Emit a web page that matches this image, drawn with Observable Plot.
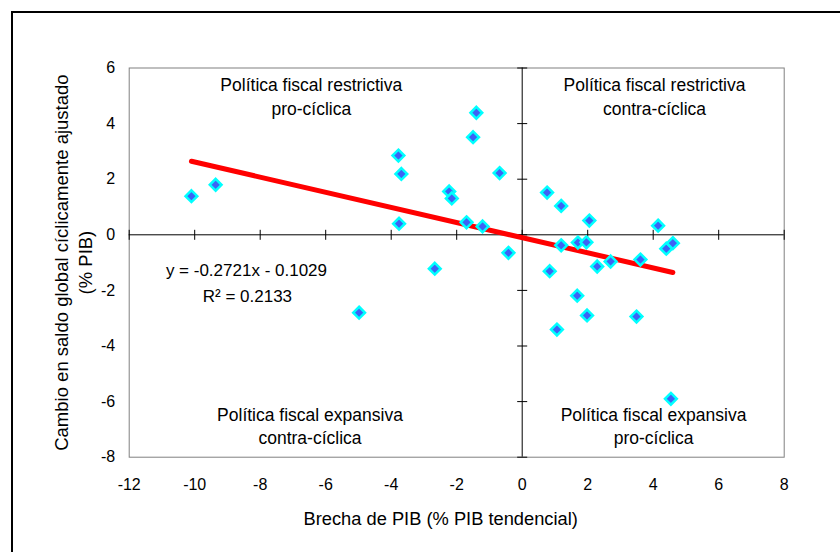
<!DOCTYPE html>
<html>
<head>
<meta charset="utf-8">
<script src="https://cdn.jsdelivr.net/npm/d3@7"></script>
<script src="https://cdn.jsdelivr.net/npm/@observablehq/plot@0.6"></script>
<style>
  html, body { margin: 0; padding: 0; background: #fff; overflow: hidden; }
  #wrap { position: relative; width: 840px; height: 552px; overflow: hidden; }
  #border { position: absolute; left: 11px; top: 11px; width: 900px; height: 600px;
            border: 2px solid #000; box-sizing: border-box; }
  #chart { position: absolute; left: 0; top: 0; }
</style>
</head>
<body>
<div id="wrap"><div id="border"></div><div id="chart"></div></div>
<script>
// Output gap (% of trend GDP) per observation
const gap = [-10.10, -9.36, -4.98, -3.78, -3.69, -3.76, -2.67, -2.23, -2.15, -1.70,
             -1.50, -1.40, -1.21, -0.69, -0.42, 0.76, 0.84, 1.06, 1.19, 1.19,
             1.68, 1.70, 1.96, 1.98, 2.05, 2.29, 2.70, 3.49, 3.61, 4.15,
             4.40, 4.54, 4.60];
// Change in the cyclically adjusted overall balance (% of GDP)
const balance = [1.39, 1.80, -2.80, 2.85, 2.19, 0.40, -1.22, 1.56, 1.31, 0.45,
                 3.51, 4.39, 0.30, 2.22, -0.65, 1.52, -1.31, -3.41, 1.04, -0.38,
                 -2.19, -0.28, -0.27, -2.90, 0.51, -1.14, -0.96, -2.94, -0.89, 0.33,
                 -0.50, -5.90, -0.30];
// Axis ticks
const xTicks = [-12, -10, -8, -6, -4, -2, 0, 2, 4, 6, 8];
const yTicks = [-8, -6, -4, -2, 0, 2, 4, 6];
// Linear trend fitted to the observations
const slope = -0.2721;
const intercept = -0.1029;
const rSquared = 0.2133;

const points = gap.map((x, i) => ({x, y: balance[i]}));
const fit = d3.extent(gap).map(x => ({x, y: slope * x + intercept}));

const fmt = d => String(d);
const equation = `y = ${slope.toFixed(4)}x - ${Math.abs(intercept).toFixed(4)}`;
const r2Label = `R² = ${rSquared.toFixed(4)}`;

// Small cross-shaped tick marks drawn on the zero axes
const vTick = {draw(ctx) { ctx.moveTo(0, -5); ctx.lineTo(0, 5); }};
const hTick = {draw(ctx) { ctx.moveTo(-5, 0); ctx.lineTo(5, 0); }};

const font = "'Liberation Sans', Arial, sans-serif";
const quadFont = 17.5;

const chart = Plot.plot({
  width: 840,
  height: 552,
  marginLeft: 128.7,
  marginRight: 56.3,
  marginTop: 67.5,
  marginBottom: 95.3,
  style: {fontFamily: font, color: "#000", background: "transparent"},
  x: {domain: [-12, 8]},
  y: {domain: [-8, 6]},
  marks: [
    Plot.frame({stroke: "#808080", strokeWidth: 1}),
    Plot.ruleY([0], {stroke: "#000", strokeWidth: 1}),
    Plot.ruleX([0], {stroke: "#000", strokeWidth: 1}),
    Plot.dot(xTicks, {x: d => d, y: () => 0, symbol: vTick, fill: "none", stroke: "#000", strokeWidth: 1}),
    Plot.dot(yTicks, {x: () => 0, y: d => d, symbol: hTick, fill: "none", stroke: "#000", strokeWidth: 1}),
    Plot.axisX({ticks: xTicks, tickFormat: fmt, tickSize: 0, tickPadding: 21, fontSize: 16, label: null}),
    Plot.axisY({ticks: yTicks, tickFormat: fmt, tickSize: 0, tickPadding: 14, fontSize: 16, label: null}),
    Plot.text(["Política fiscal restrictiva\npro-cíclica"], {x: () => -6.44, y: () => 5.01, text: d => d, fontSize: quadFont, lineHeight: 1.34, fill: "#000"}),
    Plot.text(["Política fiscal restrictiva\ncontra-cíclica"], {x: () => 4.04, y: () => 5.01, text: d => d, fontSize: quadFont, lineHeight: 1.34, fill: "#000"}),
    Plot.text(["Política fiscal expansiva\ncontra-cíclica"], {x: () => -6.48, y: () => -6.85, text: d => d, fontSize: quadFont, lineHeight: 1.34, fill: "#000"}),
    Plot.text(["Política fiscal expansiva\npro-cíclica"], {x: () => 4.01, y: () => -6.85, text: d => d, fontSize: quadFont, lineHeight: 1.34, fill: "#000"}),
    Plot.text([equation], {x: () => -8.42, y: () => -1.27, text: d => d, fontSize: 17, fill: "#000"}),
    Plot.text([r2Label], {x: () => -8.39, y: () => -2.23, text: d => d, fontSize: 17, fill: "#000"}),
    Plot.line(fit, {x: "x", y: "y", stroke: "#ff0000", strokeWidth: 5, strokeLinecap: "round"}),
    Plot.dot(points, {x: "x", y: "y", symbol: "diamond2", r: 5.3, fill: "#3d63f5", stroke: "#00ffff", strokeWidth: 2.5}),
    Plot.text(["Brecha de PIB (% PIB tendencial)"], {frameAnchor: "bottom", textAnchor: "middle", lineAnchor: "middle", dx: -16, dy: 61.5, text: d => d, fontSize: 18.3, fill: "#000"}),
    Plot.text(["Cambio en saldo global cíclicamente ajustado\n(% PIB)"], {frameAnchor: "left", textAnchor: "middle", lineAnchor: "middle", dx: -56.7, rotate: -90, text: d => d, fontSize: 18.5, lineHeight: 1.3, fill: "#000"})
  ]
});
document.getElementById("chart").appendChild(chart);
</script>
</body>
</html>
